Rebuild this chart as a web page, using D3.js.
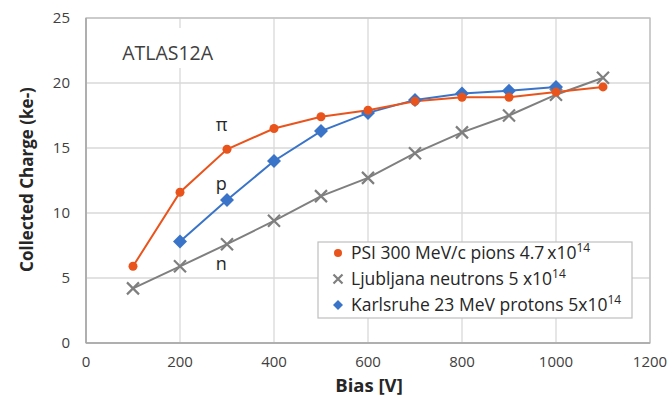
<!DOCTYPE html>
<html>
<head>
<meta charset="utf-8">
<script src="https://cdn.jsdelivr.net/npm/d3@7"></script>
<style>
  body { margin: 0; background: #fff; }
  text { font-family: "Open Sans", "Noto Sans", sans-serif; }
</style>
</head>
<body>
<svg id="chart" width="672" height="397"></svg>
<script>
const bias = [100, 200, 300, 400, 500, 600, 700, 800, 900, 1000, 1100];
const pions = [5.9, 11.6, 14.9, 16.5, 17.4, 17.9, 18.6, 18.9, 18.9, 19.3, 19.7];
const neutrons = [4.2, 5.9, 7.6, 9.4, 11.3, 12.7, 14.6, 16.2, 17.5, 19.1, 20.4];
const protonBias = [200, 300, 400, 500, 600, 700, 800, 900, 1000];
const protons = [7.8, 11.0, 14.0, 16.3, 17.7, 18.7, 19.2, 19.4, 19.7];
const xTicks = [0, 200, 400, 600, 800, 1000, 1200];
const yTicks = [0, 5, 10, 15, 20, 25];

var svg = d3.select("#chart"),
    margin = {top: 18, right: 22, bottom: 54, left: 86},
    width = 672 - margin.left - margin.right,
    height = 397 - margin.top - margin.bottom;

var x = d3.scaleLinear().domain([0, 1200]).range([0, width]);
var y = d3.scaleLinear().domain([0, 25]).range([height, 0]);

var g = svg.append("g")
    .attr("transform", "translate(" + margin.left + "," + margin.top + ")");

// grid
g.append("g").selectAll("line").data(yTicks).enter().append("line")
    .attr("x1", 0).attr("x2", width)
    .attr("y1", d => y(d)).attr("y2", d => y(d))
    .attr("stroke", "#d9d9d9").attr("stroke-width", 1.3);
g.append("g").selectAll("line").data(xTicks).enter().append("line")
    .attr("y1", 0).attr("y2", height)
    .attr("x1", d => x(d)).attr("x2", d => x(d))
    .attr("stroke", "#d9d9d9").attr("stroke-width", 1.3);

// frame
g.append("rect").attr("width", width).attr("height", height)
    .attr("fill", "none").attr("stroke", "#bfbfbf").attr("stroke-width", 1.3);
g.append("line").attr("x1", 0).attr("x2", 0).attr("y1", 0).attr("y2", height)
    .attr("stroke", "#a6a6a6").attr("stroke-width", 1.5);
g.append("line").attr("x1", 0).attr("x2", width).attr("y1", height).attr("y2", height)
    .attr("stroke", "#a6a6a6").attr("stroke-width", 1.5);

// tick labels
g.append("g").selectAll("text").data(xTicks).enter().append("text")
    .attr("x", d => x(d)).attr("y", height + 24)
    .attr("text-anchor", "middle").attr("font-size", 15).attr("fill", "#404040")
    .text(d => d);
g.append("g").selectAll("text").data(yTicks).enter().append("text")
    .attr("x", -16).attr("y", d => y(d) + 5)
    .attr("text-anchor", "end").attr("font-size", 15).attr("fill", "#404040")
    .text(d => d);

// axis titles
svg.append("text")
    .attr("transform", "translate(33," + (margin.top + height / 2 - 1) + ") rotate(-90)")
    .attr("text-anchor", "middle").attr("font-size", 17).attr("font-weight", "bold")
    .attr("fill", "#262626").text("Collected Charge (ke-)");
svg.append("text")
    .attr("x", margin.left + width / 2 + 1).attr("y", 392)
    .attr("text-anchor", "middle").attr("font-size", 18.5).attr("font-weight", "bold")
    .attr("fill", "#262626").text("Bias [V]");

var line = d3.line().x(d => x(d[0])).y(d => y(d[1]));

var orange = "#e9541c", blue = "#3a74c8", grey = "#7f7f7f";

var pionData = d3.zip(bias, pions);
var neutronData = d3.zip(bias, neutrons);
var protonData = d3.zip(protonBias, protons);

// title text box (white, hides the grid behind it)
g.append("rect").attr("x", x(50)).attr("y", 10).attr("width", 130).attr("height", 40)
    .attr("fill", "#fff");
g.append("text").attr("x", x(77)).attr("y", 42)
    .attr("font-size", 19.5).attr("fill", "#404040").text("ATLAS12A");

g.append("path").datum(neutronData).attr("d", line)
    .attr("fill", "none").attr("stroke", grey).attr("stroke-width", 2);
g.append("path").datum(protonData).attr("d", line)
    .attr("fill", "none").attr("stroke", blue).attr("stroke-width", 2);
g.append("path").datum(pionData).attr("d", line)
    .attr("fill", "none").attr("stroke", orange).attr("stroke-width", 2);

function cross(sel, s) {
  sel.append("path")
      .attr("d", "M" + -s + "," + -s + "L" + s + "," + s + "M" + -s + "," + s + "L" + s + "," + -s)
      .attr("stroke", grey).attr("stroke-width", 2.2).attr("fill", "none");
}

g.append("g").selectAll("g").data(neutronData).enter().append("g")
    .attr("transform", d => "translate(" + x(d[0]) + "," + y(d[1]) + ")")
    .call(cross, 6);
g.append("g").selectAll("path").data(protonData).enter().append("path")
    .attr("transform", d => "translate(" + x(d[0]) + "," + y(d[1]) + ")")
    .attr("d", "M0,-7L7,0L0,7L-7,0Z").attr("fill", blue);
g.append("g").selectAll("circle").data(pionData).enter().append("circle")
    .attr("cx", d => x(d[0])).attr("cy", d => y(d[1])).attr("r", 4.5)
    .attr("fill", orange);

// curve labels
g.append("text").attr("x", x(276)).attr("y", y(16.3))
    .attr("font-size", 18).attr("fill", "#262626").text("π");
g.append("text").attr("x", x(276)).attr("y", y(11.8))
    .attr("font-size", 18).attr("fill", "#262626").text("p");
g.append("text").attr("x", x(276)).attr("y", y(5.6))
    .attr("font-size", 18).attr("fill", "#262626").text("n");

// legend
var legend = svg.append("g").attr("transform", "translate(318,242)");
legend.append("rect").attr("width", 314).attr("height", 76)
    .attr("fill", "#fff").attr("stroke", "#bfbfbf").attr("stroke-width", 1.2);

var items = [
  {label: "PSI 300 MeV/c pions 4.7\u2009x10", kind: "circle"},
  {label: "Ljubljana neutrons 5 x10", kind: "cross"},
  {label: "Karlsruhe 23 MeV protons 5x10", kind: "diamond"}
];
var row = legend.selectAll("g.row").data(items).enter().append("g")
    .attr("class", "row")
    .attr("transform", (d, i) => "translate(0," + (11 + i * 26) + ")");
row.each(function(d) {
  var r = d3.select(this);
  if (d.kind === "circle") r.append("circle").attr("cx", 20).attr("cy", 0).attr("r", 4).attr("fill", orange);
  if (d.kind === "cross") r.append("g").attr("transform", "translate(20,0)").call(cross, 4.5);
  if (d.kind === "diamond") r.append("path").attr("transform", "translate(20,0)")
      .attr("d", "M0,-5L5,0L0,5L-5,0Z").attr("fill", blue);
});
var t = row.append("text").attr("x", 33).attr("y", 6)
    .attr("font-size", 17.5).attr("fill", "#262626");
t.append("tspan").text(d => d.label);
t.append("tspan").attr("dy", -7).attr("font-size", 12).text("14");
</script>
</body>
</html>
